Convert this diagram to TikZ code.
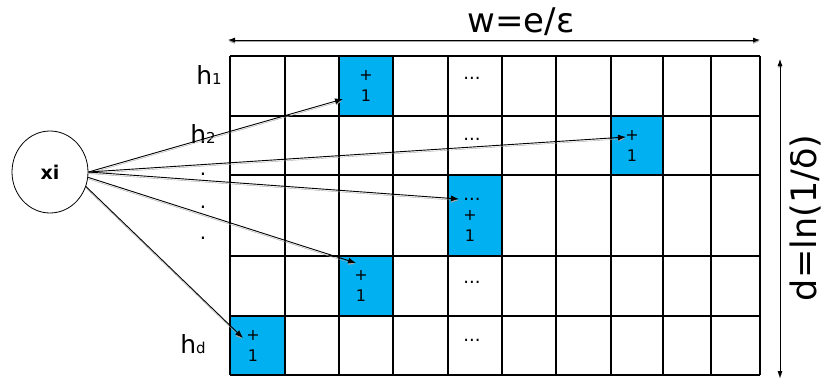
\documentclass[tikz,border=0pt]{standalone}
\usepackage{fontspec}
\setmainfont{DejaVu Sans}
\usetikzlibrary{arrows.meta,shapes.geometric}
\definecolor{cellblue}{HTML}{00B0F0}

\begin{document}
\begin{tikzpicture}
  [x=1pt,y=-1pt,
   % Styles
   grid line/.style={line width=1.3pt},
   hash arrow/.style={-{Latex[length=8pt,width=6pt]},line width=0.9pt,
     preaction={draw=black!35,transform canvas={yshift=-1.6pt}}},
   size arrow/.style={{Latex[length=7pt,width=5pt]}-{Latex[length=7pt,width=5pt]},line width=0.8pt,
     preaction={draw=black!35,transform canvas={yshift=-1.6pt}}},
   row label/.style={anchor=base,font=\fontsize{25}{25}\selectfont},
   big label/.style={anchor=base,font=\fontsize{34}{34}\selectfont},
   count text/.style={align=center,inner sep=0pt,font=\fontsize{16}{21}\selectfont},
   skip text/.style={anchor=base,inner sep=0pt,font=\fontsize{18}{18}\selectfont}]

  \useasboundingbox (0,0) rectangle (826,380);

  % Counters that get +1
  \fill[cellblue] (339,56) rectangle (393,116);
  \fill[cellblue] (611,116) rectangle (663,175);
  \fill[cellblue] (448,175) rectangle (502,256);
  \fill[cellblue] (339,256) rectangle (393,316);
  \fill[cellblue] (230,316) rectangle (285,375);

  % The table
  \foreach \x in {230,285,339,393,448,502,556,611,663,711,760}
    \draw[grid line] (\x,56) -- (\x,375);
  \foreach \y in {56,116,175,256,316,375}
    \draw[grid line] (230,\y) -- (760,\y);

  \node[count text] (k1) at (366,86) {+\\1};
  \node[count text] (k2) at (632,146) {+\\1};
  \node[count text] (k3) at (470,226) {+\\1};
  \node[count text] (k4) at (361,286) {+\\1};
  \node[count text] (k5) at (253,346) {+\\1};

  \foreach \y/\n in {79/1,140/2,200/3,283/4,341/5}
    \node[skip text] (s\n) at (472,\y) {...};

  % Row labels
  \node[row label] (h1) at (209,84) {h{\fontsize{15}{15}\selectfont 1}};
  \node[row label] (h2) at (203,143) {h{\fontsize{15}{15}\selectfont 2}};
  \node[row label] (hd) at (193,353) {h{\fontsize{15}{15}\selectfont d}};
  \foreach \y/\n in {175/1,208/2,239/3}
    \node[anchor=base,inner sep=0pt,font=\fontsize{20}{20}\selectfont] (v\n) at (203,\y) {.};

  % Sizes
  \node[big label] (w) at (521,32) {w=e/ε};
  \node[big label,rotate=90,inner sep=0pt,font=\fontsize{35}{35}\selectfont] (d) at (816,218) {d=ln(1/δ)};
  \coordinate (wl) at (228,40);
  \coordinate (wr) at (760,40);
  \coordinate (dt) at (780,59);
  \coordinate (db) at (780,378);
  \draw[size arrow] (wl) -- (wr);
  \draw[size arrow] (dt) -- (db);

  % The item and its hashes
  \node[ellipse,draw,line width=0.8pt,minimum width=76pt,minimum height=82pt,
    font=\bfseries\fontsize{19}{19}\selectfont] (xi) at (50,172) {xi};

  \coordinate (t1) at (343,99);
  \coordinate (t2) at (626,137);
  \coordinate (t3) at (459,199);
  \coordinate (t4) at (356,263);
  \coordinate (t5) at (243,338);

  \draw[hash arrow] (xi.east) -- (t1);
  \draw[hash arrow] (xi.east) -- (t2);
  \draw[hash arrow] (xi.east) -- (t3);
  \draw[hash arrow] (xi.-8) -- (t4);
  \draw[hash arrow] (xi.-22) -- (t5);
\end{tikzpicture}
\end{document}
